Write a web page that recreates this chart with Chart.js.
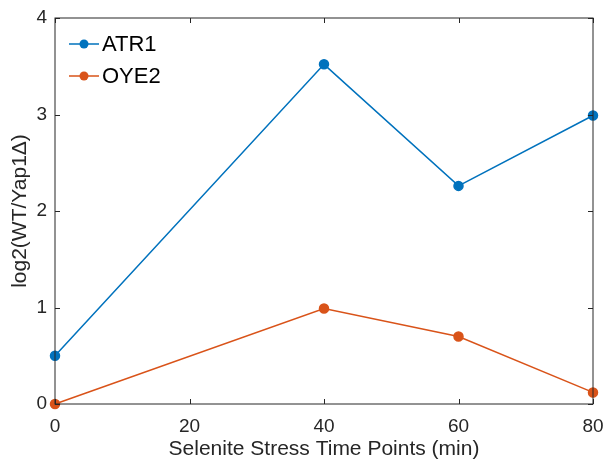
<!DOCTYPE html>
<html lang="en">
<head>
    <meta charset="UTF-8">
    <title>ATR1 / OYE2</title>
    <style>
        html, body { margin: 0; padding: 0; background: #ffffff; }
        #wrap { width: 608px; height: 461px; position: relative; }
    </style>
</head>
<body>
    <div id="wrap"><canvas id="chart" width="608" height="461"></canvas></div>

    <script src="https://cdn.jsdelivr.net/npm/chart.js"></script>
    <script>
        // data
        const timePoints = [0, 40, 60, 80];
        const atr1 = [0.5, 3.52, 2.26, 2.99];
        const oye2 = [0, 0.99, 0.70, 0.12];
        const xTicks = [0, 20, 40, 60, 80];
        const yTicks = [0, 1, 2, 3, 4];

        const blue = '#0072BD';
        const orange = '#D95319';
        const axisColor = '#262626';
        const font = 'Liberation Sans, Arial, Helvetica, sans-serif';

        function toPoints(ys) {
            return timePoints.map((x, i) => ({ x: x, y: ys[i] }));
        }

        // matlab-style box with inward ticks and a legend inside the axes
        const boxPlugin = {
            id: 'matlabBox',
            afterDraw(chart) {
                const c = chart.ctx;
                const a = chart.chartArea;
                const xs = chart.scales.x, ys = chart.scales.y;
                c.save();
                c.strokeStyle = axisColor;
                c.lineWidth = 1;
                c.strokeRect(a.left, a.top, a.right - a.left, a.bottom - a.top);
                const len = 5;
                c.beginPath();
                xTicks.forEach(v => {
                    const px = Math.round(xs.getPixelForValue(v)) + 0.5;
                    c.moveTo(px, a.bottom); c.lineTo(px, a.bottom - len);
                    c.moveTo(px, a.top); c.lineTo(px, a.top + len);
                });
                yTicks.forEach(v => {
                    const py = Math.round(ys.getPixelForValue(v)) + 0.5;
                    c.moveTo(a.left, py); c.lineTo(a.left + len, py);
                    c.moveTo(a.right, py); c.lineTo(a.right - len, py);
                });
                c.stroke();

                // legend
                chart.data.datasets.forEach((ds, i) => {
                    const y = a.top + 26 + i * 32;
                    c.strokeStyle = ds.borderColor;
                    c.lineWidth = 1.5;
                    c.beginPath();
                    c.moveTo(a.left + 14, y); c.lineTo(a.left + 44, y);
                    c.stroke();
                    c.fillStyle = ds.borderColor;
                    c.beginPath();
                    c.arc(a.left + 29, y, 4.5, 0, Math.PI * 2);
                    c.fill();
                    c.fillStyle = '#000000';
                    c.font = '22px ' + font;
                    c.textBaseline = 'middle';
                    c.textAlign = 'left';
                    c.fillText(ds.label, a.left + 47, y + 1);
                });
                c.restore();
            }
        };

        new Chart(document.getElementById('chart'), {
            type: 'line',
            data: {
                datasets: [
                    {
                        label: 'ATR1',
                        data: toPoints(atr1),
                        borderColor: blue,
                        backgroundColor: blue,
                        borderWidth: 1.5,
                        pointRadius: 4.5,
                        pointHoverRadius: 4.5,
                        tension: 0,
                        clip: false
                    },
                    {
                        label: 'OYE2',
                        data: toPoints(oye2),
                        borderColor: orange,
                        backgroundColor: orange,
                        borderWidth: 1.5,
                        pointRadius: 4.5,
                        pointHoverRadius: 4.5,
                        tension: 0,
                        clip: false
                    }
                ]
            },
            options: {
                responsive: false,
                animation: false,
                layout: { padding: { top: 18, right: 15, left: 0, bottom: 0 } },
                plugins: {
                    legend: { display: false },
                    tooltip: { enabled: false }
                },
                scales: {
                    x: {
                        type: 'linear',
                        min: 0,
                        max: 80,
                        afterBuildTicks: s => { s.ticks = xTicks.map(v => ({ value: v })); },
                        afterFit: s => { s.height = 57; s.paddingRight = 0; s.paddingLeft = 0; },
                        grid: { display: false, drawTicks: false },
                        border: { display: false },
                        ticks: {
                            color: axisColor,
                            padding: 11,
                            maxRotation: 0,
                            font: { family: font, size: 19 }
                        },
                        title: {
                            display: true,
                            text: 'Selenite Stress Time Points (min)',
                            color: axisColor,
                            padding: { top: 3, bottom: 0 },
                            font: { family: font, size: 21, lineHeight: 1.1 }
                        }
                    },
                    y: {
                        type: 'linear',
                        min: 0,
                        max: 4,
                        afterBuildTicks: s => { s.ticks = yTicks.map(v => ({ value: v })); },
                        afterFit: s => { s.width = 55; s.paddingTop = 0; s.paddingBottom = 0; },
                        grid: { display: false, drawTicks: false },
                        border: { display: false },
                        ticks: {
                            color: axisColor,
                            padding: 8,
                            font: { family: font, size: 19 }
                        },
                        title: {
                            display: true,
                            text: 'log2(WT/Yap1\u0394)',
                            color: axisColor,
                            padding: { top: 8, bottom: 0 },
                            font: { family: font, size: 21, lineHeight: 1.2 }
                        }
                    }
                }
            },
            plugins: [boxPlugin]
        });
    </script>
</body>
</html>
